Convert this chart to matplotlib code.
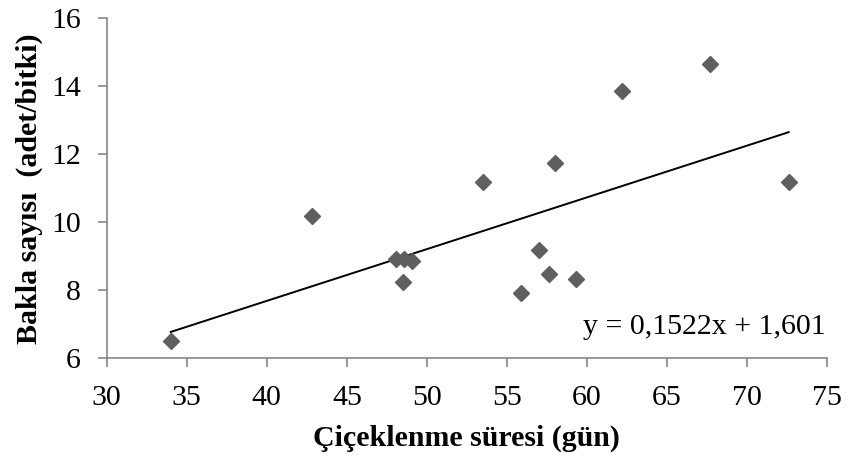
import numpy as np
import matplotlib
matplotlib.use("Agg")
import matplotlib.pyplot as plt

plt.rcParams['font.family'] = ['Liberation Serif', 'DejaVu Serif']

# flowering time (days) vs pod count (pods/plant)
gun = [34.0, 42.8, 48.1, 48.6, 49.1, 48.5, 53.5, 58.0, 57.0, 57.6, 59.3, 55.9, 62.2, 67.7, 72.6]
bakla = [6.52, 10.19, 8.91, 8.92, 8.87, 8.25, 11.19, 11.73, 9.2, 8.47, 8.32, 7.91, 13.87, 14.65, 11.19]

egim = 0.1522
kesisim = 1.601

FS = 21.5

fig = plt.figure(figsize=(8.51, 4.63), dpi=100)
ax = fig.add_axes([0.1254, 0.2261, 0.8465, 0.7344])

ax.plot(gun, bakla, linestyle='none', marker='D', markersize=8.5,
        color='#5f5f5f', zorder=3)

xs = np.array([min(gun), max(gun)])
ax.plot(xs, egim * xs + kesisim, color='black', linewidth=1.4, zorder=2)

ax.set_xlim(30, 75)
ax.set_ylim(6, 16)
ax.set_xticks(range(30, 76, 5))
ax.set_yticks(range(6, 17, 2))

for s in ['top', 'right']:
    ax.spines[s].set_visible(False)
for s in ['left', 'bottom']:
    ax.spines[s].set_color('#868686')
    ax.spines[s].set_linewidth(1.2)

ax.tick_params(axis='both', direction='out', length=6.5, width=1.2,
               color='#868686', labelsize=FS)
ax.tick_params(axis='x', pad=13)
ax.tick_params(axis='y', pad=12)

ax.set_xlabel('Çiçeklenme süresi (gün)', fontsize=FS, fontweight='bold', labelpad=9.5)
ax.set_ylabel('Bakla sayısı  (adet/bitki)', fontsize=FS, fontweight='bold', labelpad=6)

ax.text(74.9, 6.92, 'y = 0,1522x + 1,601', fontsize=FS, ha='right', va='center')

fig.savefig('out.png', dpi=100)
